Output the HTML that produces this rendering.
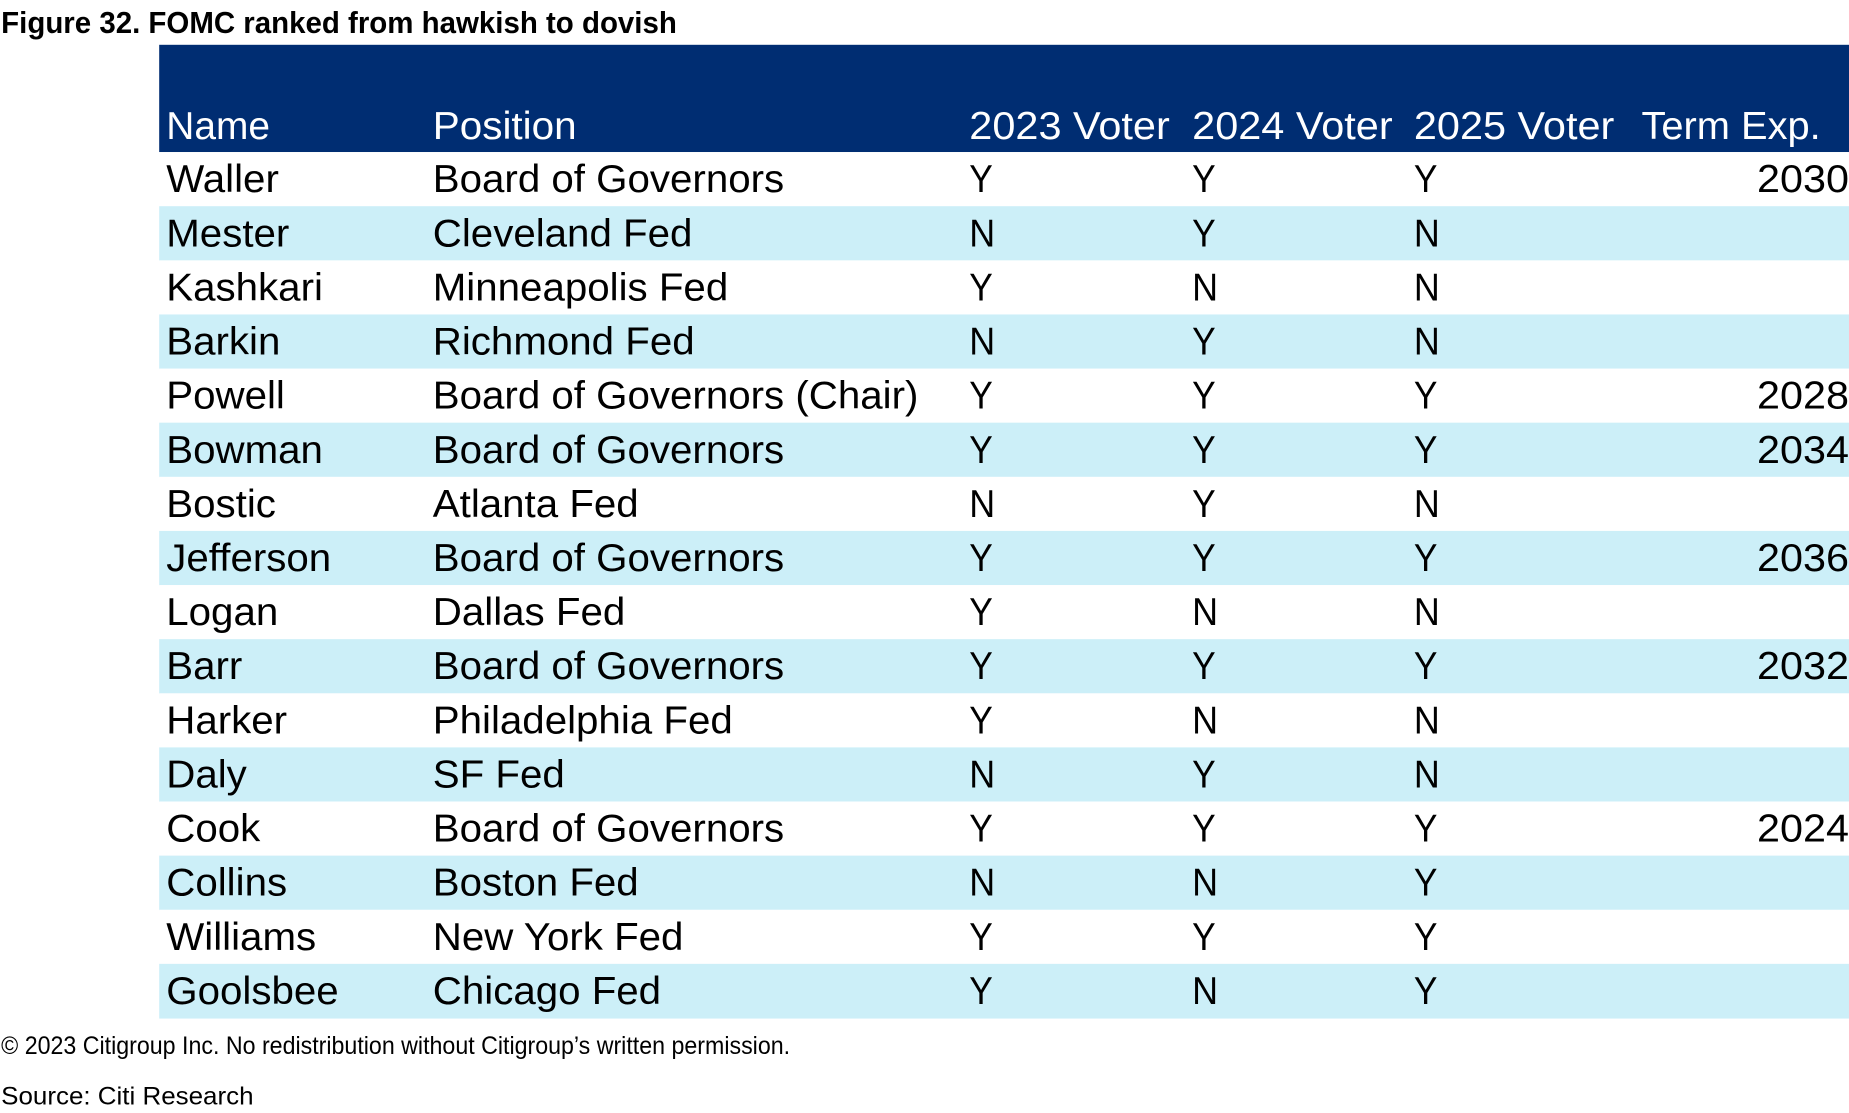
<!DOCTYPE html>
<html><head><meta charset="utf-8"><style>
html,body{margin:0;padding:0;background:#fff;width:1849px;height:1113px;overflow:hidden}
text{font-family:"Liberation Sans",sans-serif}
</style></head><body>
<svg id="svg" width="1849" height="1113" viewBox="0 0 1568 944" preserveAspectRatio="none" xmlns="http://www.w3.org/2000/svg">
<text x="1" y="28" font-size="26" font-weight="bold" textLength="573" lengthAdjust="spacingAndGlyphs">Figure 32. FOMC ranked from hawkish to dovish</text>
<rect x="135" y="38" width="1433" height="91" fill="#002D72"/>
<g id="hdr" fill="#fff" font-size="33"></g>
<g id="rows"></g>
<text x="1" y="894" font-size="21" textLength="669" lengthAdjust="spacingAndGlyphs">© 2023 Citigroup Inc. No redistribution without Citigroup’s written permission.</text>
<text x="1" y="937" font-size="21" textLength="214" lengthAdjust="spacingAndGlyphs">Source: Citi Research</text>
</svg>
<script>
const headers = ["Name","Position","2023 Voter","2024 Voter","2025 Voter","Term Exp."];
const names = ["Waller","Mester","Kashkari","Barkin","Powell","Bowman","Bostic","Jefferson","Logan","Barr","Harker","Daly","Cook","Collins","Williams","Goolsbee"];
const positions = ["Board of Governors","Cleveland Fed","Minneapolis Fed","Richmond Fed","Board of Governors (Chair)","Board of Governors","Atlanta Fed","Board of Governors","Dallas Fed","Board of Governors","Philadelphia Fed","SF Fed","Board of Governors","Boston Fed","New York Fed","Chicago Fed"];
const voter2023 = ["Y","N","Y","N","Y","Y","N","Y","Y","Y","Y","N","Y","N","Y","Y"];
const voter2024 = ["Y","Y","N","Y","Y","Y","Y","Y","N","Y","N","Y","Y","N","Y","N"];
const voter2025 = ["Y","N","N","N","Y","Y","N","Y","N","Y","N","N","Y","Y","Y","Y"];
const termExp = ["2030","","","","2028","2034","","2036","","2032","","","2024","","",""];
const NS="http://www.w3.org/2000/svg";
const colX=[141,367,822,1011,1199,1392];
const FS=33;
const svg=document.getElementById('svg');
// calibrate a width factor so Liberation Sans matches the narrower reference face
const probe=document.createElementNS(NS,'text');
probe.setAttribute('font-size',FS);probe.setAttribute('x',0);probe.setAttribute('y',-100);
probe.textContent='Board of Governors';
svg.appendChild(probe);
const K=298/probe.getComputedTextLength();
function natural(s){probe.textContent=s;return probe.getComputedTextLength();}
const hdr=document.getElementById('hdr');
headers.forEach((h,i)=>{
  const t=document.createElementNS(NS,'text');
  t.setAttribute('x',colX[i]);t.setAttribute('y',118);
  t.setAttribute('textLength',[88,122,170,170,170,152][i]);
  t.setAttribute('lengthAdjust','spacingAndGlyphs');
  t.textContent=h;
  
  
  hdr.appendChild(t);
});
const rows=document.getElementById('rows');
const y0=129,rh=45.9;
names.forEach((n,r)=>{
  const g=document.createElementNS(NS,'g');
  
  
  const y=y0+r*rh;
  const rect=document.createElementNS(NS,'rect');
  rect.setAttribute('x',135);rect.setAttribute('y',y);rect.setAttribute('width',1433);rect.setAttribute('height',rh+0.5);
  rect.setAttribute('fill',r%2?'#CCEFF8':'#ffffff');
  
  
  g.appendChild(rect);
  const vals=[n,positions[r],voter2023[r],voter2024[r],voter2025[r],termExp[r]];
  vals.forEach((v,i)=>{
    if(!v)return;
    const t=document.createElementNS(NS,'text');
    t.setAttribute('font-size',FS);
    t.setAttribute('y',y+34);
    if(i===5){t.setAttribute('x',1568);t.setAttribute('text-anchor','end');t.setAttribute('textLength',78);}
    else{
      t.setAttribute('x',colX[i]);
      if(i<2)t.setAttribute('textLength',natural(v)*K);
      else t.setAttribute('textLength',v==='N'?22:20);
    }
    t.setAttribute('lengthAdjust','spacingAndGlyphs');
    t.textContent=v;
    
    
    g.appendChild(t);
  });
  rows.appendChild(g);
});
svg.removeChild(probe);
</script>
</body></html>
